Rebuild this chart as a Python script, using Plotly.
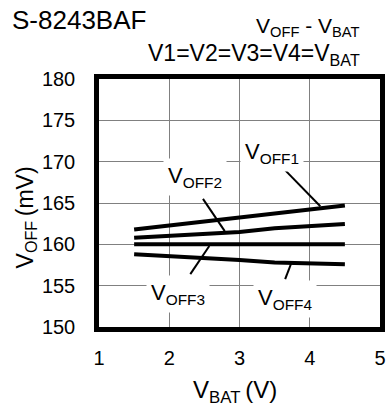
import plotly.graph_objects as go

# V_BAT sweep (V)
vbat = [1.5, 2.0, 2.5, 3.0, 3.5, 4.0, 4.5]

# overcurrent detection voltages (mV)
voff1 = [161.8, 162.3, 162.8, 163.2, 163.7, 164.2, 164.7]
voff2 = [160.8, 161.0, 161.2, 161.5, 161.95, 162.25, 162.45]
voff3 = [160.0, 160.0, 160.0, 160.0, 160.0, 160.0, 160.0]
voff4 = [158.8, 158.6, 158.35, 158.1, 157.8, 157.65, 157.6]

# curve labels: (text, label x, label y, leader from, leader to)
labels = [
    ("V<sub>OFF1</sub>", 3.46, 171.0, (3.6, 169.4), (4.15, 164.6)),
    ("V<sub>OFF2</sub>", 2.37, 168.2, (2.48, 165.5), (2.79, 161.6)),
    ("V<sub>OFF3</sub>", 2.13, 154.0, (2.3, 156.4), (2.57, 159.8)),
    ("V<sub>OFF4</sub>", 3.65, 153.4, (3.65, 155.8), (3.74, 157.8)),
]

FONT = "Liberation Sans, Arial, sans-serif"


def txt(size):
    return dict(size=size, color="black", family=FONT)


fig = go.Figure()
for ys in (voff1, voff2, voff3, voff4):
    fig.add_trace(go.Scatter(x=vbat, y=ys, mode="lines",
                             line=dict(color="black", width=4), showlegend=False))

for text, lx, ly, (x0, y0), (x1, y1) in labels:
    fig.add_trace(go.Scatter(x=[x0, x1], y=[y0, y1], mode="lines",
                             line=dict(color="black", width=2), showlegend=False))
    fig.add_annotation(x=lx, y=ly, text=text, showarrow=False, font=txt(22),
                       bgcolor="white", borderpad=4)

# headings and axis titles, placed in paper coordinates
fig.add_annotation(xref="paper", yref="paper", x=-0.317, y=1.236, xanchor="left",
                   yanchor="middle", text="S-8243BAF", showarrow=False, font=txt(26))
fig.add_annotation(xref="paper", yref="paper", x=0.936, y=1.21, xanchor="right",
                   yanchor="middle", text="V<sub>OFF</sub> - V<sub>BAT</sub>",
                   showarrow=False, font=txt(21))
fig.add_annotation(xref="paper", yref="paper", x=0.936, y=1.099, xanchor="right",
                   yanchor="middle", text="V1=V2=V3=V4=V<sub>BAT</sub>",
                   showarrow=False, font=txt(23))
fig.add_annotation(xref="paper", yref="paper", x=0.484, y=-0.26, xanchor="center",
                   yanchor="middle", text="V<sub>BAT</sub>\u2009(V)", showarrow=False,
                   font=txt(24))
fig.add_annotation(xref="paper", yref="paper", x=-0.258, y=0.44, xanchor="center",
                   yanchor="middle", text="V<sub>OFF</sub>\u2009(mV)", showarrow=False,
                   textangle=-90, font=txt(23))

axis_common = dict(showline=True, linecolor="black", linewidth=4.5, mirror=True,
                   showgrid=True, gridcolor="#808080", gridwidth=1,
                   zeroline=False, ticks="outside", tickcolor="rgba(0,0,0,0)",
                   automargin=False, tickfont=txt(20))

fig.update_xaxes(range=[1, 5], tickvals=[1, 2, 3, 4, 5], ticklen=9, **axis_common)
fig.update_yaxes(range=[150, 180], tickvals=[150, 155, 160, 165, 170, 175, 180],
                 ticklen=15, **axis_common)

fig.update_layout(template="none", width=389, height=406,
                  plot_bgcolor="white", paper_bgcolor="white",
                  margin=dict(l=99, r=9, t=79, b=79, autoexpand=False),
                  showlegend=False)

# the page body has a default 8px margin; drop it so the figure sits at (0, 0)
fig.write_html("out.html", config={"displayModeBar": False},
               post_script="document.body.style.margin='0';")
